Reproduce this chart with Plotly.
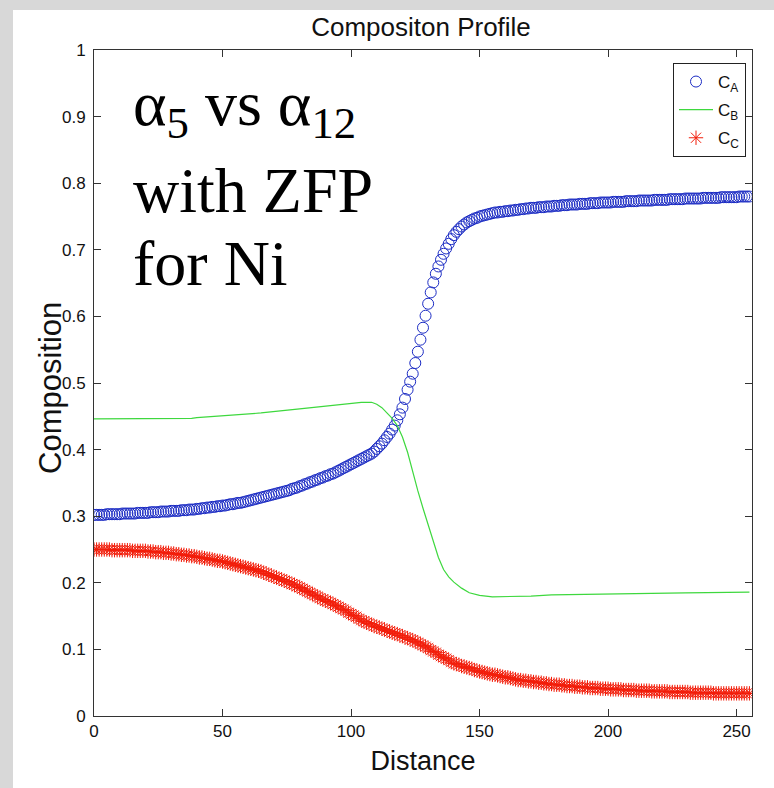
import plotly.graph_objects as go

# ---------------- data ----------------
distance = list(range(256))

c_a = [
    .302, .302, .302, .302, .302, .303, .303, .303, .303, .303,
    .303, .304, .304, .304, .304, .304, .304, .305, .305, .305,
    .305, .305, .306, .306, .306, .306, .307, .307, .307, .307,
    .308, .308, .308, .308, .309, .309, .309, .310, .310, .310,
    .311, .311, .312, .312, .313, .313, .314, .314, .315, .315,
    .316, .316, .317, .318, .318, .319, .320, .320, .321, .322,
    .323, .324, .325, .326, .327, .328, .329, .330, .331, .332,
    .333, .334, .335, .336, .337, .338, .339, .341, .342, .343,
    .345, .346, .348, .349, .351, .352, .354, .355, .357, .358,
    .360, .361, .363, .364, .366, .368, .370, .372, .374, .376,
    .378, .380, .382, .384, .386, .388, .390, .392, .394, .397,
    .401, .405, .409, .414, .419, .424, .430, .436, .444, .453,
    .463, .476, .490, .502, .514, .530, .547, .565, .583, .601,
    .619, .636, .651, .664, .675, .685, .694, .702, .709, .716,
    .722, .727, .731, .735, .738, .741, .743, .745, .747, .748,
    .750, .751, .752, .753, .754, .755, .756, .756, .757, .757,
    .758, .758, .759, .759, .760, .760, .761, .761, .762, .762,
    .763, .763, .763, .764, .764, .764, .765, .765, .765, .766,
    .766, .766, .767, .767, .767, .768, .768, .768, .768, .769,
    .769, .769, .769, .770, .770, .770, .770, .771, .771, .771,
    .771, .771, .772, .772, .772, .772, .772, .773, .773, .773,
    .773, .773, .774, .774, .774, .774, .774, .774, .775, .775,
    .775, .775, .775, .775, .776, .776, .776, .776, .776, .776,
    .777, .777, .777, .777, .777, .777, .777, .778, .778, .778,
    .778, .778, .778, .778, .779, .779, .779, .779, .779, .779,
    .779, .780, .780, .780, .780, .780,
]

c_c = [
    .250, .250, .250, .250, .250, .250, .250, .249, .249, .249,
    .249, .249, .249, .249, .249, .248, .248, .248, .248, .248,
    .248, .247, .247, .247, .246, .246, .246, .245, .245, .245,
    .244, .244, .243, .243, .242, .242, .241, .241, .240, .240,
    .239, .238, .238, .237, .236, .236, .235, .234, .233, .233,
    .232, .231, .230, .229, .228, .227, .226, .225, .224, .223,
    .222, .221, .220, .219, .218, .217, .215, .214, .212, .211,
    .209, .208, .206, .205, .203, .202, .200, .198, .197, .195,
    .193, .191, .189, .187, .185, .183, .181, .179, .177, .175,
    .173, .172, .170, .168, .166, .164, .162, .160, .158, .155,
    .153, .151, .149, .146, .144, .142, .140, .139, .137, .135,
    .134, .133, .131, .130, .128, .127, .125, .124, .123, .121,
    .120, .118, .117, .115, .114, .112, .110, .108, .106, .104,
    .102, .099, .097, .095, .092, .090, .088, .086, .084, .081,
    .079, .078, .077, .075, .074, .073, .072, .071, .069, .068,
    .067, .066, .065, .064, .063, .062, .062, .061, .060, .059,
    .058, .058, .057, .056, .055, .054, .054, .053, .053, .052,
    .052, .051, .051, .050, .050, .049, .049, .048, .048, .047,
    .047, .047, .046, .046, .045, .045, .045, .044, .044, .044,
    .043, .043, .043, .042, .042, .042, .042, .041, .041, .041,
    .041, .040, .040, .040, .040, .040, .039, .039, .039, .039,
    .039, .038, .038, .038, .038, .038, .038, .037, .037, .037,
    .037, .037, .037, .037, .036, .036, .036, .036, .036, .036,
    .036, .036, .035, .035, .035, .035, .035, .035, .035, .035,
    .035, .034, .034, .034, .034, .034, .034, .034, .034, .034,
    .034, .034, .034, .034, .034, .034,
]

c_b_x = [0, 20, 38, 40, 65, 80, 97, 104, 108, 110, 112, 114, 116, 118,
         120, 122, 124, 126, 128, 130.5, 132, 134, 136, 138, 140, 143,
         146, 150, 155, 163, 170, 178, 195, 211, 230, 255]
c_b_y = [.446, .446, .447, .448, .455, .461, .468, .471, .471, .468,
         .463, .455, .447, .436, .419, .396, .365, .338, .312, .282,
         .262, .238, .220, .209, .201, .192, .185, .181, .179, .179,
         .180, .182, .183, .185, .185, .186]

x_ticks = [0, 50, 100, 150, 200, 250]
y_ticks = [0, 0.1, 0.2, 0.3, 0.4, 0.5, 0.6, 0.7, 0.8, 0.9, 1]
y_tick_text = ["0", "0.1", "0.2", "0.3", "0.4", "0.5", "0.6", "0.7", "0.8", "0.9", "1"]

note_lines = ["α<sub>5</sub> vs α<sub>12</sub>", "with ZFP", "for Ni"]

# ---------------- figure ----------------
W, H = 774, 788
ML, MR, MT, MB = 94, 22, 50, 72
PW, PH = W - ML - MR, H - MT - MB
SANS = "Liberation Sans, Arial, sans-serif"
SERIF = "Liberation Serif, Times New Roman, serif"

def px_x(p):
    return (p - ML) / PW

def px_y(p):
    return (H - MB - p) / PH

fig = go.Figure()

fig.add_trace(go.Scatter(
    x=distance, y=c_a, mode="markers", name="C<sub>A</sub>",
    legendgroup="a",
    marker=dict(symbol="circle-open", size=11, color="#1c2cc4",
                line=dict(width=1, color="#1c2cc4")),
))
fig.add_trace(go.Scatter(
    x=c_b_x, y=c_b_y, mode="lines", name="C<sub>B</sub>",
    legendgroup="b",
    line=dict(color="#3ed83e", width=1.2),
))
fig.add_trace(go.Scatter(
    x=distance, y=c_c, mode="markers", name="C<sub>C</sub>",
    legendgroup="c",
    marker=dict(symbol="asterisk-open", size=12, color="#f21d0a",
                line=dict(width=1, color="#f21d0a")),
))

axis_common = dict(
    showline=True, linecolor="#333333", linewidth=1, mirror="ticks",
    ticks="inside", ticklen=7, tickcolor="#333333", tickwidth=1,
    showgrid=False, zeroline=False,
    tickfont=dict(family=SANS, size=17, color="#111111"),
)

fig.update_xaxes(
    range=[0, 256], tickvals=x_ticks, ticktext=[str(t) for t in x_ticks],
    title=dict(text="Distance", standoff=10,
               font=dict(family=SANS, size=27, color="#111111")),
    **axis_common,
)
fig.update_yaxes(
    range=[0, 1], tickvals=y_ticks, ticktext=y_tick_text,
    ticklabelstandoff=4,
    **axis_common,
)

annotations = [
    dict(text="Composition", textangle=-90, xref="paper", yref="paper",
         x=px_x(50), xanchor="center", y=px_y(388), yanchor="middle",
         showarrow=False, font=dict(family=SANS, size=31, color="#111111")),
]
note_centers = [108, 191, 263]
for txt, cy in zip(note_lines, note_centers):
    annotations.append(dict(
        text=txt, xref="paper", yref="paper", x=px_x(131), xanchor="left",
        y=px_y(cy), yanchor="middle", align="left", showarrow=False,
        font=dict(family=SERIF, size=64, color="#000000"),
    ))

fig.update_layout(
    width=W, height=H,
    margin=dict(l=ML, r=MR, t=MT, b=MB, autoexpand=False),
    paper_bgcolor="#d8d8d8",
    plot_bgcolor="white",
    title=dict(text="Compositon Profile", x=px_x(421), xanchor="center", xref="paper",
               y=1 - 27 / H, yanchor="middle",
               font=dict(family=SANS, size=26, color="#111111")),
    showlegend=True,
    legend=dict(
        x=px_x(746), xanchor="right", y=px_y(63), yanchor="top",
        bgcolor="white", bordercolor="#222222", borderwidth=1,
        font=dict(family=SANS, size=17, color="#111111"),
        tracegroupgap=3, itemwidth=34,
    ),
    shapes=[dict(
        type="rect", xref="paper", yref="paper", layer="below",
        x0=px_x(13), x1=px_x(800), y0=px_y(820), y1=px_y(10),
        fillcolor="white", line=dict(width=0),
    )],
    annotations=annotations,
)

fig.write_html("out.html", config={"displayModeBar": False},
               post_script="document.body.style.margin='0';")
